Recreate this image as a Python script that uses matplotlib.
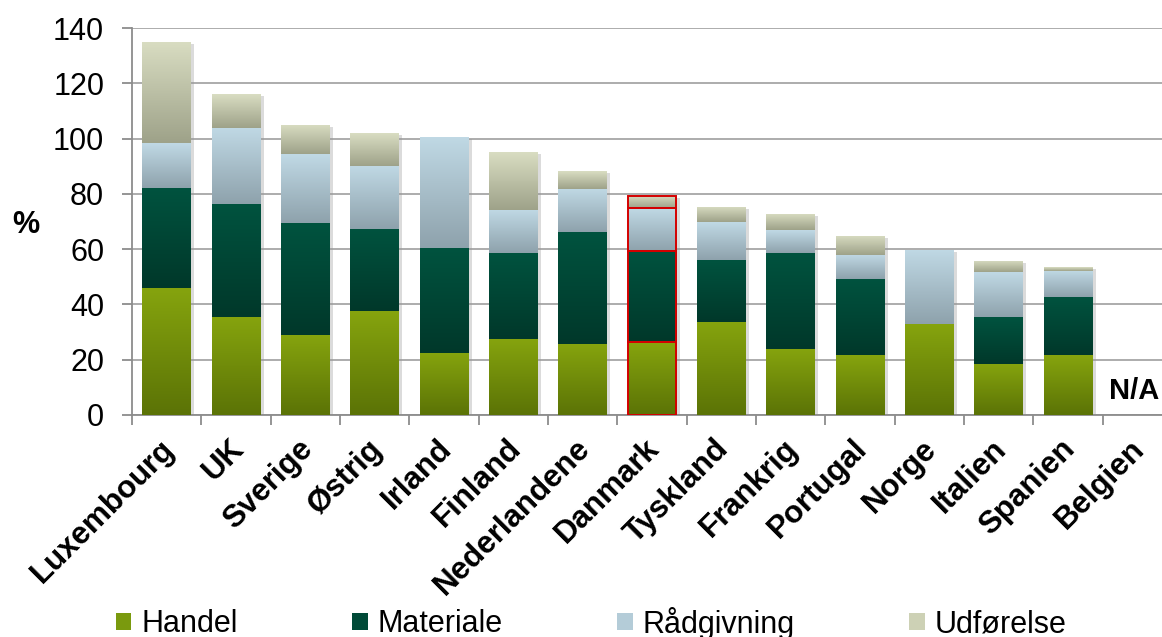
import numpy as np
import matplotlib
matplotlib.use("Agg")
import matplotlib.pyplot as plt
from matplotlib.colors import LinearSegmentedColormap
from matplotlib.patches import Patch
from matplotlib.transforms import ScaledTranslation
import matplotlib.patheffects as pe

plt.rcParams['font.family'] = ['Liberation Sans', 'DejaVu Sans']

countries = ["Luxembourg", "UK", "Sverige", "Østrig", "Irland", "Finland",
             "Nederlandene", "Danmark", "Tyskland", "Frankrig", "Portugal",
             "Norge", "Italien", "Spanien", "Belgien"]
handel = [46.0, 35.6, 29.1, 37.6, 22.5, 27.5, 25.7, 26.4, 33.8, 23.9, 21.7, 32.9, 18.5, 21.7, 0]
materiale = [36.2, 40.9, 40.5, 29.7, 37.9, 31.2, 40.5, 33.1, 22.3, 34.7, 27.5, 0, 17.0, 21.0, 0]
raadgivning = [16.2, 27.5, 24.8, 22.9, 40.2, 15.6, 15.6, 15.5, 13.7, 8.3, 8.7, 26.8, 16.2, 9.5, 0]
udfoerelse = [36.6, 12.1, 10.5, 11.8, 0, 20.9, 6.5, 4.4, 5.5, 5.8, 6.9, 0, 4.0, 1.3, 0]
yticks = [0, 20, 40, 60, 80, 100, 120, 140]

series = [
    ("Handel", handel, "#86a40e", "#5b7306", "#7a9a0e"),
    ("Materiale", materiale, "#00533f", "#00382a", "#004a38"),
    ("Rådgivning", raadgivning, "#c0d9e5", "#8ea2ac", "#b4ccd8"),
    ("Udførelse", udfoerelse, "#d9ddc2", "#9ea289", "#cdd1b5"),
]
highlight = "Danmark"

fig = plt.figure(figsize=(11.62, 6.37), dpi=100)
ax = fig.add_axes([132 / 1162, 1 - 415 / 637, 1040 / 1162, 387 / 637])

x = np.arange(len(countries))
width = 0.7
totals = np.sum([s[1] for s in series], axis=0)

# soft drop shadow behind each stacked column
shadow = ax.bar(x, totals, width, bottom=0, color="white", zorder=2, linewidth=0)
for p, t in zip(shadow, totals):
    if t > 0:
        p.set_path_effects([pe.SimplePatchShadow(offset=(2.5, -1.5), shadow_rgbFace="#999999", alpha=0.35),
                            pe.Normal()])
    else:
        p.set_visible(False)

bottom = np.zeros(len(countries))
grad = np.linspace(0, 1, 128).reshape(-1, 1)
for name, vals, top_c, bot_c, _ in series:
    vals = np.array(vals, dtype=float)
    bars = ax.bar(x, vals, width, bottom=bottom, color="none", linewidth=0, zorder=3)
    cmap = LinearSegmentedColormap.from_list(name, [bot_c, top_c])
    for i, p in enumerate(bars):
        if vals[i] <= 0:
            continue
        x0, y0 = p.get_x(), p.get_y()
        im = ax.imshow(grad, extent=(x0, x0 + p.get_width(), y0, y0 + p.get_height()),
                       origin="lower", cmap=cmap, aspect="auto", interpolation="bilinear",
                       zorder=3)
        im.set_clip_path(p)
        if countries[i] == highlight:
            p.set_edgecolor("#d40000")
            p.set_linewidth(1.4)
            p.set_zorder(4)
    bottom += vals

ax.set_xlim(-0.5, len(countries) - 0.5)
ax.set_ylim(0, 140)
ax.set_yticks(yticks)
ax.grid(axis="y", color="#a6a6a6", linewidth=1.3, zorder=0)
ax.set_axisbelow(True)

for s in ["top", "right"]:
    ax.spines[s].set_visible(False)
for s in ["left", "bottom"]:
    ax.spines[s].set_color("#8c8c8c")
    ax.spines[s].set_linewidth(1.3)

ax.tick_params(axis="y", length=7, width=1.3, color="#8c8c8c", pad=13, labelsize=22)
ax.set_xticks(x)
ax.set_xticks(np.arange(-0.5, len(countries), 1.0), minor=True)
ax.tick_params(axis="x", which="minor", length=7, width=1.3, color="#8c8c8c")
ax.tick_params(axis="x", which="major", length=0, pad=21)
ax.set_xticklabels(countries, rotation=45, ha="right", va="center",
                   rotation_mode="anchor", fontsize=22.5, fontweight="bold")
shift = ScaledTranslation(3 / 100, 0, fig.dpi_scale_trans)
for lbl in ax.get_xticklabels():
    lbl.set_transform(lbl.get_transform() + shift)

fig.text(26 / 1162, 1 - 225 / 637, "%", fontsize=22, fontweight="bold",
         ha="center", va="center")
ax.text(13.95, 8.7, "N/A", fontsize=21, fontweight="bold", ha="center", va="center")

handles = [Patch(facecolor=s[4], edgecolor="none", label=s[0]) for s in series]
fig.legend(handles=handles, loc="center left", ncol=4, frameon=False,
           bbox_to_anchor=(116 / 1162, 1 - 623 / 637), fontsize=22,
           handlelength=0.5, handleheight=0.5, handletextpad=0.33,
           columnspacing=3.75, borderpad=0, borderaxespad=0)

fig.savefig("out.png", dpi=100)
